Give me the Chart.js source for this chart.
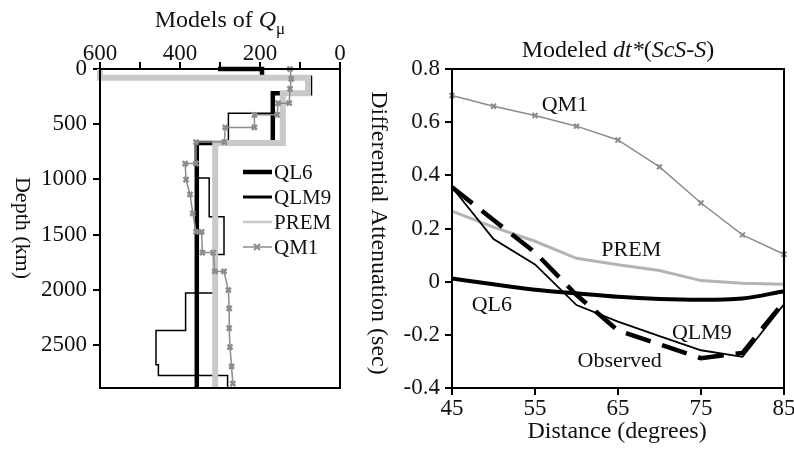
<!DOCTYPE html>
<html>
<head>
<meta charset="utf-8">
<script src="https://cdn.jsdelivr.net/npm/chart.js@4.4.1/dist/chart.umd.min.js"></script>
<style>
    html, body { margin: 0; padding: 0; background: #fff; overflow: hidden; width: 794px; height: 450px; }
    #left { position: absolute; left: 0; top: 0; }
    #right { position: absolute; left: 360px; top: 0; }
</style>
</head>
<body>
<canvas id="left" width="360" height="450"></canvas>
<canvas id="right" width="444" height="450"></canvas>
<script>
    "use strict";

    ///////////////////////////////////////////////////////////////
    // Left panel : models of Q (step profiles, corners Q / depth)
    ///////////////////////////////////////////////////////////////
    var ql6Q = [305, 195, 195, 75, 75, 168, 168, 358, 358];
    var ql6Depth = [0, 0, 80, 80, 220, 220, 670, 670, 2891];

    var qlm9Q = [168, 168, 279, 279, 358, 358, 327, 327, 290, 290, 314, 314, 386, 386, 460, 460, 454, 454, 281, 281];
    var qlm9Depth = [220, 400, 400, 670, 670, 987, 987, 1338, 1338, 1680, 1680, 2030, 2030, 2370, 2370, 2680, 2680, 2777, 2777, 2891];

    var premQ = [600, 600, 80, 80, 143, 143, 312, 312];
    var premDepth = [0, 80, 80, 220, 220, 670, 670, 2891];

    var qm1Q = [125, 122, 125, 127, 155, 157, 214, 214, 287, 289, 360, 360, 387, 385, 375, 368, 360, 346, 344, 317, 313, 290, 279, 277, 277, 275, 271, 268];
    var qm1Depth = [0, 90, 180, 310, 310, 415, 415, 530, 530, 662, 662, 857, 857, 1002, 1137, 1309, 1477, 1477, 1664, 1664, 1835, 1835, 2003, 2169, 2349, 2521, 2696, 2852];

    var qTicks = [0, 100, 200, 300, 400, 500, 600];
    var qTickLabels = [0, 200, 400, 600];
    var depthTicks = [0, 500, 1000, 1500, 2000, 2500];
    var legendNames = ["QL6", "QLM9", "PREM", "QM1"];

    ///////////////////////////////////////////////////////////////
    // Right panel : modeled dt*(ScS-S)
    ///////////////////////////////////////////////////////////////
    var distance = [45, 50, 55, 60, 65, 70, 75, 80, 85];
    var qm1Dt = [0.70, 0.66, 0.625, 0.585, 0.533, 0.432, 0.296, 0.176, 0.103];
    var premDt = [0.265, 0.205, 0.152, 0.088, 0.064, 0.042, 0.004, -0.006, -0.01];
    var ql6Dt = [0.012, -0.01, -0.03, -0.044, -0.057, -0.065, -0.068, -0.063, -0.036];
    var qlm9Dt = [0.355, 0.16, 0.065, -0.088, -0.15, -0.205, -0.258, -0.283, -0.085];
    var obsDt = [0.355, 0.232, 0.11, -0.05, -0.184, -0.236, -0.288, -0.268, -0.075];

    var distTicks = [45, 55, 65, 75, 85];
    var dtTicks = [-0.4, -0.2, 0, 0.2, 0.4, 0.6, 0.8];
    var dtTickLabels = ["-0.4", "-0.2", "0", "0.2", "0.4", "0.6", "0.8"];

    // curve labels written inside the right panel (data units)
    var curveLabels = [
        { text: "QM1", x: 58.6, y: 0.665 },
        { text: "PREM", x: 66.6, y: 0.12 },
        { text: "QL6", x: 49.8, y: -0.09 },
        { text: "QLM9", x: 75.1, y: -0.195 },
        { text: "Observed", x: 65.2, y: -0.30 }
    ];

    var SERIF = '"Liberation Serif", "Times New Roman", serif';
    var GREY_PREM = "#c9c9c9";
    var GREY_QM1 = "#8c8c8c";

    function pairs(xs, ys) {
        return xs.map(function (x, i) { return { x: x, y: ys[i] }; });
    }

    function font(size, italic) {
        return (italic ? "italic " : "") + size + "px " + SERIF;
    }

    // text made of pieces (roman / italic / subscript), centred on cx
    function richText(ctx, parts, cx, baseline, size) {
        var total = 0;
        parts.forEach(function (p) {
            ctx.font = font(p.sub ? Math.round(size * 0.7) : size, p.italic);
            p.w = ctx.measureText(p.t).width;
            total += p.w;
        });
        var x = cx - total / 2;
        ctx.textAlign = "left";
        ctx.textBaseline = "alphabetic";
        parts.forEach(function (p) {
            ctx.font = font(p.sub ? Math.round(size * 0.7) : size, p.italic);
            ctx.fillText(p.t, x, baseline + (p.sub ? size * 0.28 : 0));
            x += p.w;
        });
    }

    function rotatedText(ctx, text, x, y, size) {
        ctx.save();
        ctx.translate(x, y);
        ctx.rotate(Math.PI / 2);
        ctx.font = font(size, false);
        ctx.textAlign = "center";
        ctx.textBaseline = "middle";
        ctx.fillText(text, 0, 0);
        ctx.restore();
    }

    function frame(chart) {
        var a = chart.chartArea, ctx = chart.ctx;
        ctx.save();
        ctx.strokeStyle = "#000";
        ctx.lineWidth = 2;
        ctx.strokeRect(a.left, a.top, a.right - a.left, a.bottom - a.top);
        ctx.restore();
    }

    var tickFont = { family: SERIF, size: 23 };
    var axisGrid = { drawOnChartArea: false, drawTicks: true, tickLength: 7, color: "#000", lineWidth: 2 };
    var axisBorder = { display: true, color: "#000", width: 2 };

    ///////////////////////////////////////////////////////////////
    // Left chart
    ///////////////////////////////////////////////////////////////
    var leftDecor = {
        id: "leftDecor",
        afterDraw: function (chart) {
            var ctx = chart.ctx;
            frame(chart);
            ctx.save();
            ctx.fillStyle = "#111";
            richText(ctx, [
                { t: "Models of " },
                { t: "Q", italic: true },
                { t: "\u03bc", sub: true }
            ], 220, 27, 24);
            rotatedText(ctx, "Depth (km)", 22, 228, 22);

            // legend inside the plot
            var styles = [
                { color: "#000", width: 4.5 },
                { color: "#000", width: 3 },
                { color: GREY_PREM, width: 2.5 },
                { color: GREY_QM1, width: 1.5, marker: true }
            ];
            legendNames.forEach(function (name, i) {
                var y = 172 + i * 25, s = styles[i];
                ctx.strokeStyle = s.color;
                ctx.lineWidth = s.width;
                ctx.beginPath();
                ctx.moveTo(243, y);
                ctx.lineTo(272, y);
                ctx.stroke();
                if (s.marker) {
                    ctx.lineWidth = 2;
                    ctx.beginPath();
                    ctx.moveTo(254, y - 3); ctx.lineTo(260, y + 3);
                    ctx.moveTo(254, y + 3); ctx.lineTo(260, y - 3);
                    ctx.stroke();
                }
                ctx.font = font(21, false);
                ctx.textAlign = "left";
                ctx.textBaseline = "middle";
                ctx.fillStyle = "#111";
                ctx.fillText(name, 274, y + 1);
            });
            ctx.restore();
        }
    };

    new Chart(document.getElementById("left").getContext("2d"), {
        type: "scatter",
        data: {
            datasets: [
                {
                    label: "QM1",
                    data: pairs(qm1Q, qm1Depth),
                    showLine: true,
                    borderColor: GREY_QM1,
                    borderWidth: 1.5,
                    pointStyle: "crossRot",
                    pointRadius: 3.5,
                    pointBorderWidth: 2.5,
                    pointBorderColor: GREY_QM1,
                    clip: 8
                },
                {
                    label: "PREM",
                    data: pairs(premQ, premDepth),
                    showLine: true,
                    borderColor: GREY_PREM,
                    borderWidth: 6,
                    pointRadius: 0,
                    clip: 8
                },
                {
                    label: "QLM9",
                    data: pairs(qlm9Q, qlm9Depth),
                    showLine: true,
                    borderColor: "#000",
                    borderWidth: 1.5,
                    pointRadius: 0,
                    clip: 8
                },
                {
                    label: "QL6",
                    data: pairs(ql6Q, ql6Depth),
                    showLine: true,
                    borderColor: "#000",
                    borderWidth: 4.5,
                    pointRadius: 0,
                    clip: 8
                }
            ]
        },
        options: {
            responsive: false,
            animation: false,
            layout: { padding: { left: 0, top: 0, right: 20, bottom: 62 } },
            plugins: { legend: { display: false }, tooltip: { enabled: false } },
            scales: {
                x: {
                    type: "linear",
                    position: "top",
                    reverse: true,
                    min: 0,
                    max: 600,
                    grid: axisGrid,
                    border: axisBorder,
                    afterBuildTicks: function (s) { s.ticks = qTicks.map(function (v) { return { value: v }; }); },
                    afterFit: function (s) { s.height = 69; },
                    ticks: {
                        font: tickFont,
                        color: "#111",
                        padding: -6,
                        maxRotation: 0,
                        autoSkip: false,
                        callback: function (v) { return qTickLabels.indexOf(v) >= 0 ? String(v) : ""; }
                    }
                },
                y: {
                    type: "linear",
                    reverse: true,
                    min: 0,
                    max: 2891,
                    grid: axisGrid,
                    border: axisBorder,
                    afterBuildTicks: function (s) { s.ticks = depthTicks.map(function (v) { return { value: v }; }); },
                    afterFit: function (s) { s.width = 100; },
                    ticks: {
                        font: tickFont,
                        color: "#111",
                        padding: 6,
                        autoSkip: false,
                        callback: function (v) { return String(v); }
                    }
                }
            }
        },
        plugins: [leftDecor]
    });

    ///////////////////////////////////////////////////////////////
    // Right chart
    ///////////////////////////////////////////////////////////////
    var rightDecor = {
        id: "rightDecor",
        afterDraw: function (chart) {
            var ctx = chart.ctx, xs = chart.scales.x, ys = chart.scales.y;
            frame(chart);
            ctx.save();
            ctx.fillStyle = "#111";
            richText(ctx, [
                { t: "Modeled " },
                { t: "dt*", italic: true },
                { t: "(" },
                { t: "ScS-S", italic: true },
                { t: ")" }
            ], 258, 57, 24);
            rotatedText(ctx, "Differential Attenuation (sec)", 18, 233, 24);
            ctx.font = font(24, false);
            ctx.textAlign = "center";
            ctx.textBaseline = "middle";
            ctx.fillText("Distance (degrees)", 257, 432);

            ctx.font = font(22, false);
            curveLabels.forEach(function (l) {
                ctx.fillText(l.text, xs.getPixelForValue(l.x), ys.getPixelForValue(l.y));
            });
            ctx.restore();
        }
    };

    new Chart(document.getElementById("right").getContext("2d"), {
        type: "scatter",
        data: {
            datasets: [
                {
                    label: "Observed",
                    data: pairs(distance, obsDt),
                    showLine: true,
                    borderColor: "#000",
                    borderWidth: 4.5,
                    borderDash: [26, 12],
                    pointRadius: 0,
                    clip: 8
                },
                {
                    label: "QLM9",
                    data: pairs(distance, qlm9Dt),
                    showLine: true,
                    borderColor: "#000",
                    borderWidth: 1.8,
                    pointRadius: 0,
                    clip: 8
                },
                {
                    label: "QL6",
                    data: pairs(distance, ql6Dt),
                    showLine: true,
                    borderColor: "#000",
                    borderWidth: 4,
                    cubicInterpolationMode: "monotone",
                    pointRadius: 0,
                    clip: 8
                },
                {
                    label: "PREM",
                    data: pairs(distance, premDt),
                    showLine: true,
                    borderColor: "#b4b4b4",
                    borderWidth: 3,
                    pointRadius: 0,
                    clip: 8
                },
                {
                    label: "QM1",
                    data: pairs(distance, qm1Dt),
                    showLine: true,
                    borderColor: GREY_QM1,
                    borderWidth: 1.5,
                    pointStyle: "crossRot",
                    pointRadius: 3.5,
                    pointBorderWidth: 2,
                    pointBorderColor: GREY_QM1,
                    clip: 8
                }
            ]
        },
        options: {
            responsive: false,
            animation: false,
            layout: { padding: { left: 0, top: 69, right: 20, bottom: 0 } },
            plugins: { legend: { display: false }, tooltip: { enabled: false } },
            scales: {
                x: {
                    type: "linear",
                    min: 45,
                    max: 85,
                    grid: axisGrid,
                    border: axisBorder,
                    afterBuildTicks: function (s) { s.ticks = distTicks.map(function (v) { return { value: v }; }); },
                    afterFit: function (s) { s.height = 62; },
                    ticks: { font: tickFont, color: "#111", padding: 0, maxRotation: 0, autoSkip: false }
                },
                y: {
                    type: "linear",
                    min: -0.4,
                    max: 0.8,
                    grid: axisGrid,
                    border: axisBorder,
                    afterBuildTicks: function (s) { s.ticks = dtTicks.map(function (v) { return { value: v }; }); },
                    afterFit: function (s) { s.width = 92; },
                    ticks: {
                        font: tickFont,
                        color: "#111",
                        padding: 5,
                        autoSkip: false,
                        callback: function (v) { return dtTickLabels[dtTicks.indexOf(v)]; }
                    }
                }
            }
        },
        plugins: [rightDecor]
    });
</script>
</body>
</html>
